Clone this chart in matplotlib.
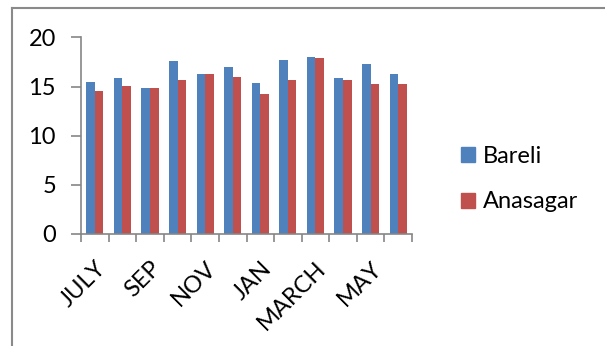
import numpy as np
import matplotlib
matplotlib.use("Agg")
import matplotlib.pyplot as plt
from matplotlib.lines import Line2D

plt.rcParams['font.family'] = ['Lato', 'DejaVu Sans']

# monthly values, July to June
months = ["JULY", "AUG", "SEP", "OCT", "NOV", "DEC",
          "JAN", "FEB", "MARCH", "APR", "MAY", "JUNE"]
bareli = [15.5, 15.85, 14.85, 17.65, 16.3, 17.0, 15.35, 17.75, 18.0, 15.85, 17.3, 16.3]
anasagar = [14.55, 15.05, 14.85, 15.65, 16.3, 16.0, 14.3, 15.7, 17.95, 15.65, 15.25, 15.25]
series_names = ["Bareli", "Anasagar"]

blue = "#4F81BD"
red = "#C0504D"
grey = "#868686"

fig = plt.figure(figsize=(6.05, 3.46), dpi=100)
ax = fig.add_axes([81/605, 1 - 234/346, 331/605, 196.5/346])

x = np.arange(len(months))
w = 0.31
ax.bar(x - w/2, bareli, w, color=blue, label=series_names[0], zorder=2)
ax.bar(x + w/2, anasagar, w, color=red, label=series_names[1], zorder=2)

ax.set_xlim(-0.5, len(months) - 0.5)
ax.set_ylim(0, 20)
ax.set_yticks([0, 5, 10, 15, 20])
ax.tick_params(axis='y', labelsize=17, length=7, color=grey, width=1.2, pad=11)

# labels on every other month, tick marks between categories
ax.set_xticks(x[::2])
ax.set_xticklabels(months[::2], rotation=45, ha='right', va='top',
                   rotation_mode='anchor', fontsize=17)
ax.tick_params(axis='x', which='major', length=0, pad=17)
ax.set_xticks(np.arange(-0.5, len(months)), minor=True)
ax.tick_params(axis='x', which='minor', length=6, color=grey, width=1.2)

for s in ['top', 'right']:
    ax.spines[s].set_visible(False)
for s in ['left', 'bottom']:
    ax.spines[s].set_color(grey)
    ax.spines[s].set_linewidth(1.2)

handles = [plt.Rectangle((0, 0), 1, 1, color=blue),
           plt.Rectangle((0, 0), 1, 1, color=red)]
fig.legend(handles, series_names, loc='center left',
           bbox_to_anchor=(440/605, 1 - 179/346), frameon=False,
           fontsize=17, handlelength=0.6, handleheight=0.6,
           handletextpad=0.3, labelspacing=1.05)

# chart frame (runs off the right and bottom edges)
fig.add_artist(Line2D([12/605, 12/605], [0, 1 - 7.5/346], transform=fig.transFigure,
                      color="#8a8a8a", lw=1.5))
fig.add_artist(Line2D([12/605, 1], [1 - 7.5/346, 1 - 7.5/346], transform=fig.transFigure,
                      color="#8a8a8a", lw=1.5))

fig.savefig("out.png", dpi=100)
